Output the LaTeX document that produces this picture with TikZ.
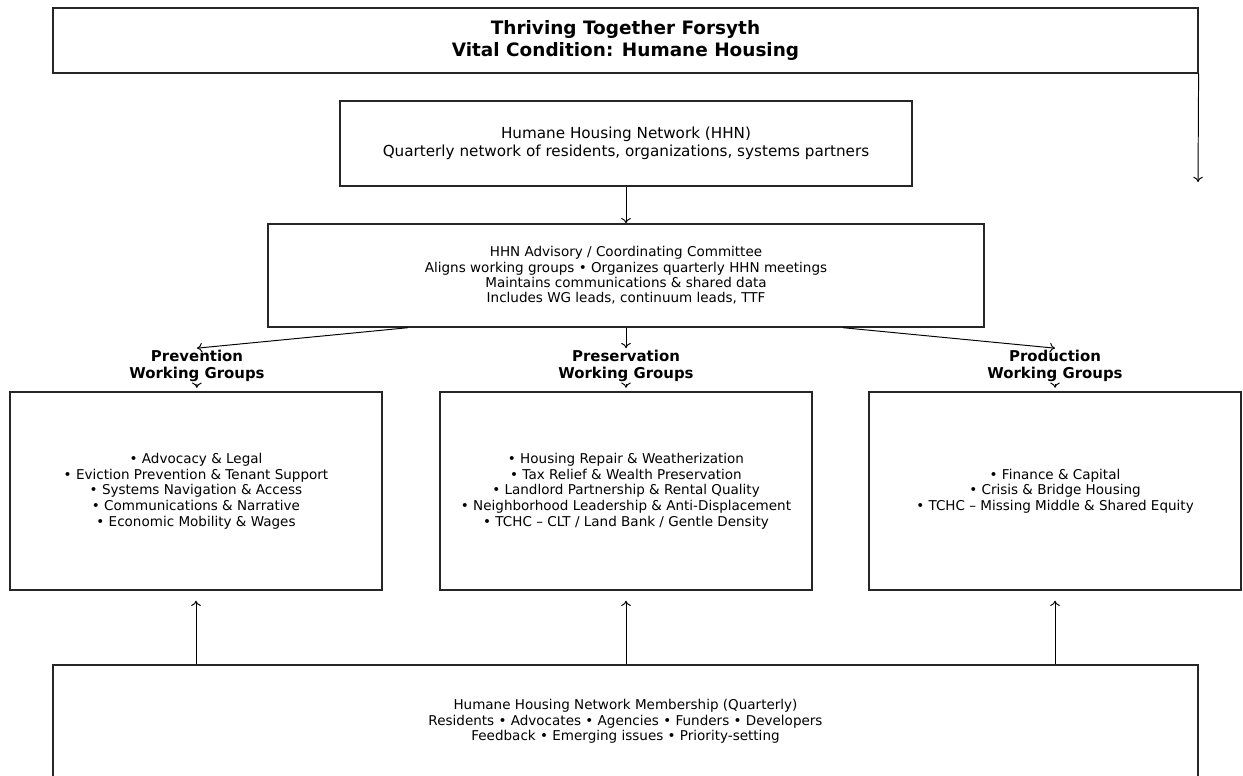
\documentclass[tikz,border=0pt]{standalone}
\usepackage{fontspec}
\setmainfont{DejaVu Sans}
\usetikzlibrary{calc,arrows.meta}
\tikzset{
  boite/.style={draw=black!85, line width=0.8pt, align=center, inner sep=0pt},
  titre/.style={font=\bfseries\fontsize{10.5}{12}\selectfont},
  groupe/.style={align=center, inner sep=1pt, font=\bfseries\fontsize{8.5}{9.6}\selectfont},
  comitetxt/.style={font=\fontsize{7.7}{8.7}\selectfont},
  petit/.style={font=\fontsize{7.7}{8.9}\selectfont},
  moyen/.style={font=\fontsize{8.65}{10.2}\selectfont},
  fleche/.style={-{To[length=3pt,width=5.5pt]}, line width=0.55pt}
}

\begin{document}
\begin{tikzpicture}[x=0.02cm, y=-0.02cm]
  \useasboundingbox (0,0) rectangle (1243,776);

  \node[boite, titre, minimum width=22.9cm, minimum height=1.3cm] (titre) at (625.5,40.5) {Thriving Together Forsyth\\Vital Condition: Humane Housing};
  \node[boite, moyen, minimum width=11.44cm, minimum height=1.7cm] (reseau) at (626,143.5) {Humane Housing Network (HHN)\\Quarterly network of residents, organizations, systems partners};
  \node[boite, comitetxt, minimum width=14.32cm, minimum height=2.06cm] (comite) at (626,275.5) {HHN Advisory / Coordinating Committee\\Aligns working groups \textbullet{} Organizes quarterly HHN meetings\\Maintains communications \& shared data\\Includes WG leads, continuum leads, TTF};

  \node[groupe] (prevention) at (197,366) {Prevention\\Working Groups};
  \node[groupe] (preservation) at (626,366) {Preservation\\Working Groups};
  \node[groupe] (production) at (1055,366) {Production\\Working Groups};

  \node[boite, petit, minimum width=7.44cm, minimum height=3.96cm] (gprev) at (196,491) {\textbullet{} Advocacy \& Legal\\\textbullet{} Eviction Prevention \& Tenant Support\\\textbullet{} Systems Navigation \& Access\\\textbullet{} Communications \& Narrative\\\textbullet{} Economic Mobility \& Wages};
  \node[boite, petit, minimum width=7.44cm, minimum height=3.96cm] (gpres) at (626,491) {\textbullet{} Housing Repair \& Weatherization\\\textbullet{} Tax Relief \& Wealth Preservation\\\textbullet{} Landlord Partnership \& Rental Quality\\\textbullet{} Neighborhood Leadership \& Anti-Displacement\\\textbullet{} TCHC -- CLT / Land Bank / Gentle Density};
  \node[boite, petit, minimum width=7.44cm, minimum height=3.96cm] (gprod) at (1055,491) {\textbullet{} Finance \& Capital\\\textbullet{} Crisis \& Bridge Housing\\\textbullet{} TCHC -- Missing Middle \& Shared Equity};

  \node[boite, petit, minimum width=22.9cm, minimum height=2.26cm] (membres) at (625.5,721.5) {Humane Housing Network Membership (Quarterly)\\Residents \textbullet{} Advocates \textbullet{} Agencies \textbullet{} Funders \textbullet{} Developers\\Feedback \textbullet{} Emerging issues \textbullet{} Priority-setting};

  \coordinate (sortie) at (1198,182);

  \draw[fleche] (titre.south east) -- (sortie);
  \draw[fleche] (reseau) -- (comite);
  \draw[fleche] ([xshift=-4.36cm]comite.south) -- (prevention.north);
  \draw[fleche] (comite) -- (preservation);
  \draw[fleche] ([xshift=4.34cm]comite.south) -- (production.north);

  \draw[fleche, shorten >=2pt] (prevention) -- (gprev);
  \draw[fleche, shorten >=2pt] (preservation) -- (gpres);
  \draw[fleche, shorten >=2pt] (production) -- (gprod);

  \draw[fleche, shorten >=0.2cm] (membres.north -| gprev.south) -- (gprev.south);
  \draw[fleche, shorten >=0.2cm] (membres.north -| gpres.south) -- (gpres.south);
  \draw[fleche, shorten >=0.2cm] (membres.north -| gprod.south) -- (gprod.south);
\end{tikzpicture}
\end{document}
